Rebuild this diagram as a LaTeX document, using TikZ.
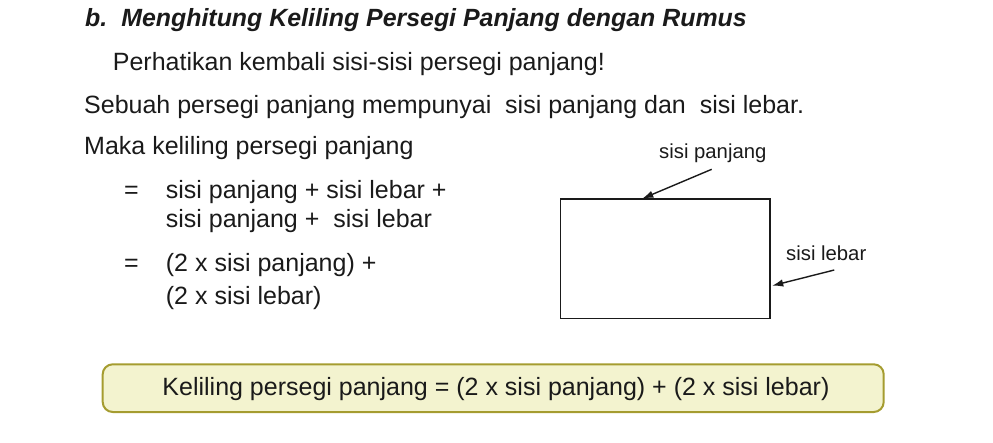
\documentclass[tikz,border=0pt]{standalone}
\usepackage{fontspec}
\setmainfont{Liberation Sans}
\usetikzlibrary{arrows.meta}
\definecolor{txt}{RGB}{26,26,26}
\definecolor{boxfill}{RGB}{243,243,207}
\definecolor{boxline}{RGB}{165,156,48}
\tikzset{
  body/.style={inner sep=0pt, anchor=base west, text=txt, font=\fontsize{25}{30}\selectfont},
  small/.style={inner sep=0pt, anchor=base west, text=txt, font=\fontsize{20.3}{24}\selectfont},
  ptr/.style={draw=txt, line width=1.4pt, -{Latex[length=11pt,width=7.5pt]}},
}
\begin{document}
\begin{tikzpicture}[x=1pt,y=-1pt]
\useasboundingbox (0,0) rectangle (993,442);
\node[body, font=\fontsize{24.9}{30}\bfseries\itshape\selectfont] (title) at (85,26.7) {b.\hspace{14pt}Menghitung Keliling Persegi Panjang dengan Rumus};
\node[body] (l1) at (112.7,70) {Perhatikan kembali sisi-sisi persegi panjang!};
\node[body] (l2) at (84,113) {Sebuah persegi panjang mempunyai\ \ sisi panjang dan\ \ sisi lebar.};
\node[body] (l3) at (84,154) {Maka keliling persegi panjang};
\node[body] (eq1) at (124,198.3) {=};
\node[body] (l4) at (165.7,198.3) {sisi panjang + sisi lebar +};
\node[body] (l5) at (165.7,227.5) {sisi panjang +\ \ sisi lebar};
\node[body] (eq2) at (124,271.5) {=};
\node[body] (l6) at (165.7,271.5) {(2 x sisi panjang) +};
\node[body] (l7) at (165.7,304) {(2 x sisi lebar)};
% rectangle
\node[draw=txt, line width=1.4pt, inner sep=0pt, minimum width=209.3pt, minimum height=119.4pt, anchor=north west] (rect) at (560,198.3) {};
\node[small] (lp) at (659,158.3) {sisi panjang};
\node[small] (ll) at (786,260) {sisi lebar};
\coordinate (ap) at (711.7,169.3);
\coordinate (tp) at (642.3,198.6);
\coordinate (al) at (834.3,270);
\coordinate (tl) at (772.2,285.7);
\draw[ptr] (ap) -- (tp);
\draw[ptr] (al) -- (tl);
% formula box
\node[draw=boxline, fill=boxfill, line width=2pt, rounded corners=10pt, inner sep=0pt, minimum width=781pt, minimum height=47.7pt, anchor=north west] (fbox) at (101.7,363.3) {};
\node[body, anchor=base] (ftext) at (496,395) {Keliling persegi panjang = (2 x sisi panjang) + (2 x sisi lebar)};
\end{tikzpicture}
\end{document}
